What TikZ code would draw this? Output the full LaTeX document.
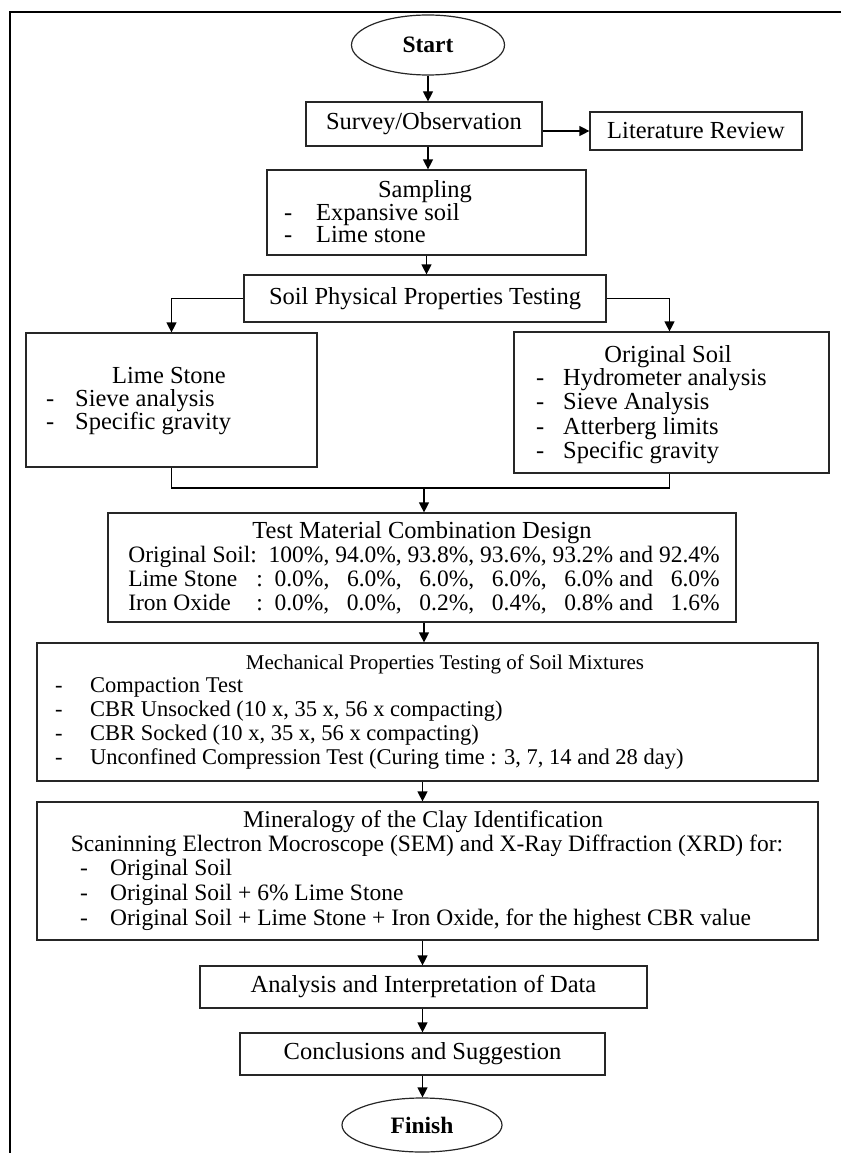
\documentclass[tikz,border=0pt]{standalone}
\usepackage{fontspec}
\setmainfont{Liberation Serif}
\usepackage{tikz}
\usetikzlibrary{shapes.geometric,arrows.meta}

\newcommand\listdash[2][32pt]{\makebox[#1][l]{-}#2}
\newcommand\fsz[1]{\fontsize{#1}{#1}\selectfont}
\tikzset{
  box/.style={draw=black!85, line width=1.2pt, inner sep=0pt},
  term/.style={ellipse, draw=black!85, line width=1.2pt, inner sep=0pt,
    font=\fsz{23.5}\bfseries},
  txt/.style={draw=none, inner sep=0pt, text height=15pt, text depth=4pt},
  item/.style={txt, anchor=west},
  flow/.style={line width=1.2pt, -{Triangle[length=10pt,width=10pt]}},
  link/.style={line width=1.2pt},
}

\begin{document}
\begin{tikzpicture}[x=1pt,y=-1pt,font=\fsz{24.5}]
             \useasboundingbox (0,0) rectangle (841,1153);
             \draw[line width=1.7pt] (841,11.7) -- (10,11.7) -- (10,1153);

             \node[term, minimum width=153pt, minimum height=60pt] (start) at (428,45) {Start};
             \node[box, minimum width=236pt, minimum height=44pt] (survey) at (424,124) {Survey/Observation};
             \node[box, minimum width=212pt, minimum height=38pt] (lit) at (696,131) {Literature Review};

             \node[box, minimum width=319pt, minimum height=85pt] (sampling) at (426.5,212.5) {};
             \node[txt] (samplingT) at (425,192) {Sampling};
             \node[item] (sampling1) at (284,215) {\listdash{Expansive soil}};
             \node[item] (sampling2) at (284,237) {\listdash{Lime stone}};

             \node[box, minimum width=362pt, minimum height=47pt] (sppt) at (425,298.5) {Soil Physical Properties Testing};

             \node[box, minimum width=291pt, minimum height=134pt] (lime) at (171.5,400) {};
             \node[txt] (limeT) at (169,378) {Lime Stone};
             \node[item] (lime1) at (46,401) {\listdash[29pt]{Sieve analysis}};
             \node[item] (lime2) at (46,424) {\listdash[29pt]{Specific gravity}};

             \node[box, minimum width=315pt, minimum height=141pt] (orig) at (671.5,402.5) {};
             \node[txt] (origT) at (668,357) {Original Soil};
             \node[item] (orig1) at (536,380) {\listdash[27pt]{Hydrometer analysis}};
             \node[item] (orig2) at (536,404) {\listdash[27pt]{Sieve Analysis}};
             \node[item] (orig3) at (536,429) {\listdash[27pt]{Atterberg limits}};
             \node[item] (orig4) at (536,453) {\listdash[27pt]{Specific gravity}};

             \coordinate (join) at (424,488);

             \node[box, minimum width=628pt, minimum height=109pt] (test) at (422,567.5) {};
             \node[txt] (testT) at (422,533) {Test Material Combination Design};
             \node[draw=none, inner sep=0pt, font=\fontsize{23.5}{24}\selectfont] (testR) at (424,582) {%
               \begin{tabular}{@{}l@{}l@{\ }r@{\ }r@{\ }r@{\ }r@{\ }r@{ and }r@{}}
               Original Soil & : & 100\%, & 94.0\%, & 93.8\%, & 93.6\%, & 93.2\% & 92.4\%\\
               Lime Stone & \ : & 0.0\%, & 6.0\%, & 6.0\%, & 6.0\%, & 6.0\% & 6.0\%\\
               Iron Oxide & \ : & 0.0\%, & 0.0\%, & 0.2\%, & 0.4\%, & 0.8\% & 1.6\%
               \end{tabular}};

             \node[box, minimum width=781pt, minimum height=138pt] (mech) at (427.5,712) {};
             \begin{scope}[font=\fsz{22.5}]
             \node[txt, font=\fsz{21}] (mechT) at (445,664) {Mechanical Properties Testing of Soil Mixtures};
             \node[item] (mech1) at (55,687) {\listdash[35pt]{Compaction Test}};
             \node[item] (mech2) at (55,711) {\listdash[35pt]{CBR Unsocked (10 x, 35 x, 56 x compacting)}};
             \node[item] (mech3) at (55,735) {\listdash[35pt]{CBR Socked (10 x, 35 x, 56 x compacting)}};
             \node[item] (mech4) at (55,759) {\listdash[35pt]{Unconfined Compression Test (Curing time : 3, 7, 14 and 28 day)}};
             \end{scope}

             \node[box, minimum width=781pt, minimum height=138pt] (mineral) at (427.5,871) {};
             \begin{scope}[font=\fsz{23.5}]
             \node[txt, font=\fsz{24}] (mineralT) at (423,822) {Mineralogy of the Clay Identification};
             \node[txt] (mineralS) at (427,846) {Scaninning Electron Mocroscope (SEM) and X-Ray Diffraction (XRD) for:};
             \node[item] (mineral1) at (80,870) {\listdash[30pt]{Original Soil}};
             \node[item] (mineral2) at (80,895) {\listdash[30pt]{Original Soil + 6\% Lime Stone}};
             \node[item] (mineral3) at (80,920) {\listdash[30pt]{Original Soil + Lime Stone + Iron Oxide, for the highest CBR value}};
             \end{scope}

             \node[box, minimum width=447pt, minimum height=42pt] (analysis) at (423.5,987) {Analysis and Interpretation of Data};
             \node[box, minimum width=365pt, minimum height=42pt] (concl) at (422.5,1054) {Conclusions and Suggestion};
             \node[term, minimum width=160pt, minimum height=54pt] (finish) at (422,1125) {Finish};

             \draw[flow] (start.south) -- (start.south |- survey.north);
             \draw[flow] (survey.east |- lit.west) -- (lit.west);
             \draw[flow] (start.south |- survey.south) -- (start.south |- sampling.north);
             \draw[flow] (sampling.south) -- (sampling.south |- sppt.north);
             \draw[flow] (sppt.west) -| (lime.north);
             \draw[flow] (sppt.east) -| ([xshift=-2pt]orig.north);
             \draw[link] (lime.south) |- (join);
             \draw[link] ([xshift=-2pt]orig.south) |- (join);
             \draw[flow] (join) -- (join |- test.north);
             \draw[flow] (join |- test.south) -- (join |- mech.north);
             \draw[flow] (concl.north |- mech.south) -- (concl.north |- mineral.north);
             \draw[flow] (concl.north |- mineral.south) -- (concl.north |- analysis.north);
             \draw[flow] (concl.north |- analysis.south) -- (concl.north);
             \draw[flow] (concl.south) -- (concl.south |- finish.north);
\end{tikzpicture}
\end{document}
